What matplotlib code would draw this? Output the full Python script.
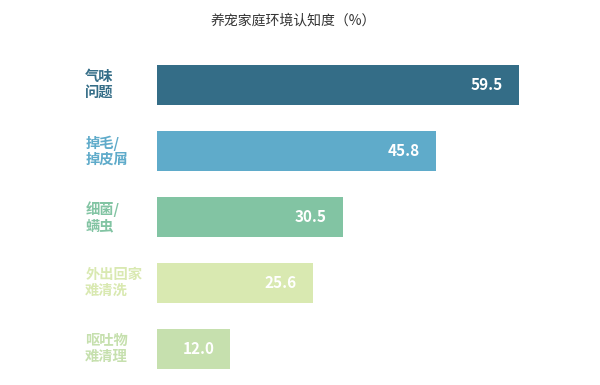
import matplotlib
matplotlib.use('Agg')
import matplotlib.pyplot as plt

plt.rcParams['font.family'] = ['Noto Sans CJK SC', 'DejaVu Sans']

# 数据
categories = ['气味\n问题', '掉毛/\n掉皮屑', '细菌/\n螨虫', '外出回家\n难清洗', '呕吐物\n难清理']
values = [59.5, 45.8, 30.5, 25.6, 12.0]
colors = ['#346d87', '#5fabca', '#82c4a3', '#d9e9b1', '#c6e0ae']
title = '养宠家庭环境认知度（%）'

W, H = 600, 385
fig = plt.figure(figsize=(6, 3.85), dpi=100)

# 坐标轴位置按像素算
px_per_unit = 6.085
x0 = 157
xmax = 70
ax = fig.add_axes([x0 / W, 1 - 382 / H, xmax * px_per_unit / W, (382 - 52) / H])

y = list(range(len(values)))
ax.barh(y, values, height=40 / 66, color=colors)
ax.set_xlim(0, xmax)
ax.set_ylim(len(values) - 0.5, -0.5)
ax.axis('off')

for i in range(len(values)):
    ax.text(-11.8, y[i], categories[i], ha='left', va='center', fontsize=10.3,
            fontweight='bold', color=colors[i], linespacing=1.2, clip_on=False)
    ax.text(values[i] - 2.6, y[i], '{:.1f}'.format(values[i]), ha='right', va='center',
            fontsize=11, fontweight='bold', color='white')

fig.text(293 / W, 1 - 21 / H, title, ha='center', va='center', fontsize=10,
         fontweight='medium', color='#333333')

plt.savefig('out.png', dpi=100)
